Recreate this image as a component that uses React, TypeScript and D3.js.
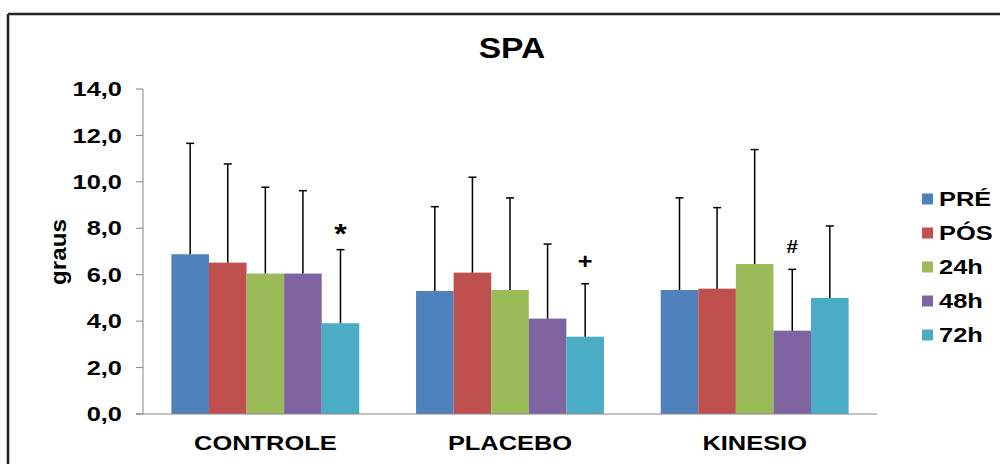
import React from "react";
import * as d3 from "d3";

const categories = ["CONTROLE", "PLACEBO", "KINESIO"];
const seriesNames = ["PRÉ", "PÓS", "24h", "48h", "72h"];
const seriesColors = ["#4F81BD", "#C0504D", "#9BBB59", "#8064A2", "#4BACC6"];
// means per category, in series order
const meanControle = [6.88, 6.52, 6.05, 6.05, 3.91];
const meanPlacebo = [5.3, 6.09, 5.34, 4.11, 3.33];
const meanKinesio = [5.34, 5.4, 6.46, 3.59, 5.0];
// upper error bar ends (mean + SD)
const errControle = [11.66, 10.77, 9.77, 9.62, 7.08];
const errPlacebo = [8.93, 10.2, 9.31, 7.32, 5.61];
const errKinesio = [9.31, 8.89, 11.39, 6.23, 8.1];
const yTicks = [0, 2, 4, 6, 8, 10, 12, 14];
const annotations = [
  { category: "CONTROLE", series: "72h", symbol: "*" },
  { category: "PLACEBO", series: "72h", symbol: "+" },
  { category: "KINESIO", series: "48h", symbol: "#" },
];

const means = [meanControle, meanPlacebo, meanKinesio];
const errs = [errControle, errPlacebo, errKinesio];

const FONT = "'Liberation Sans', Arial, sans-serif";
const SX = 1.27;

const symStyle: Record<string, { size: number; off: number }> = {
  "*": { size: 28, off: 15.5 },
  "+": { size: 22, off: 7.6 },
  "#": { size: 18, off: 6.3 },
};

export default function App() {
  const W = 1000;
  const H = 464;
  const left = 143;
  const right = 877;
  const top = 89;
  const bottom = 414;

  const x0 = d3
    .scaleBand<string>()
    .domain(categories)
    .range([left, right])
    .paddingInner(0.232)
    .paddingOuter(0.116);
  const x1 = d3
    .scaleBand<string>()
    .domain(seriesNames)
    .range([0, x0.bandwidth()])
    .padding(0);
  const y = d3.scaleLinear().domain([0, 14]).range([bottom, top]);
  const fmt = (v: number) => d3.format(".1f")(v).replace(".", ",");

  const capW = 8;

  return (
    <svg
      width={W}
      height={H}
      style={{ position: "absolute", left: 0, top: 0, display: "block", background: "#fff" }}
      fontFamily={FONT}
    >
      <rect x={0} y={0} width={W} height={H} fill="#fff" />
      {/* frame */}
      <line x1={8} y1={14} x2={W} y2={14} stroke="#222" strokeWidth={2.5} />
      <line x1={8} y1={14} x2={8} y2={H} stroke="#222" strokeWidth={2.5} />

      {/* title */}
      <text
        transform={`translate(512,58) scale(1.12,1)`}
        textAnchor="middle"
        fontSize={30}
        fontWeight="bold"
        fill="#000"
      >
        SPA
      </text>

      {/* y axis */}
      <line x1={left} y1={top} x2={left} y2={bottom} stroke="#868686" strokeWidth={1} />
      {yTicks.map((t) => (
        <g key={t}>
          <line x1={left - 7} y1={y(t)} x2={left} y2={y(t)} stroke="#868686" strokeWidth={1} />
          <text
            transform={`translate(122,${y(t) + 7.2}) scale(${SX},1)`}
            textAnchor="end"
            fontSize={20}
            fontWeight="bold"
            fill="#000"
          >
            {fmt(t)}
          </text>
        </g>
      ))}
      <text
        transform={`translate(66,252) rotate(-90) scale(1.1,1)`}
        textAnchor="middle"
        fontSize={22}
        fontWeight="bold"
        fill="#000"
      >
        graus
      </text>

      {/* bars */}
      {categories.map((c, ci) => (
        <g key={c} transform={`translate(${x0(c)},0)`}>
          {seriesNames.map((s, si) => (
            <rect
              key={s}
              x={x1(s)}
              y={y(means[ci][si])}
              width={x1.bandwidth()}
              height={bottom - y(means[ci][si])}
              fill={seriesColors[si]}
            />
          ))}
          {seriesNames.map((s, si) => {
            const cx = (x1(s) as number) + x1.bandwidth() / 2;
            return (
              <g key={s + "e"}>
                <line x1={cx} x2={cx} y1={y(means[ci][si])} y2={y(errs[ci][si])} stroke="#000" strokeWidth={1.5} />
                <line
                  x1={cx - capW / 2}
                  x2={cx + capW / 2}
                  y1={y(errs[ci][si])}
                  y2={y(errs[ci][si])}
                  stroke="#000"
                  strokeWidth={1.5}
                />
              </g>
            );
          })}
        </g>
      ))}

      {/* x axis */}
      <line x1={left - 7} y1={bottom} x2={right} y2={bottom} stroke="#868686" strokeWidth={1} />
      {categories.map((c) => (
        <text
          key={c}
          transform={`translate(${(x0(c) as number) + x0.bandwidth() / 2},449.5) scale(${SX},1)`}
          textAnchor="middle"
          fontSize={20}
          fontWeight="bold"
          fill="#000"
        >
          {c}
        </text>
      ))}

      {/* annotations */}
      {annotations.map((a) => {
        const ci = categories.indexOf(a.category);
        const si = seriesNames.indexOf(a.series);
        const cx = (x0(a.category) as number) + (x1(a.series) as number) + x1.bandwidth() / 2;
        const cy = y(errs[ci][si]) - 22.5;
        const st = symStyle[a.symbol];
        return (
          <text
            key={a.category}
            transform={`translate(${cx},${cy + st.off}) scale(1.15,1)`}
            textAnchor="middle"
            fontSize={st.size}
            fontWeight="bold"
            fill="#000"
          >
            {a.symbol}
          </text>
        );
      })}

      {/* legend */}
      {seriesNames.map((s, i) => {
        const cy = 199 + i * 34;
        return (
          <g key={s}>
            <rect x={922} y={cy - 5.5} width={11} height={11} fill={seriesColors[i]} />
            <text
              transform={`translate(939,${cy + 7.2}) scale(${SX},1)`}
              fontSize={20}
              fontWeight="bold"
              fill="#000"
            >
              {s}
            </text>
          </g>
        );
      })}
    </svg>
  );
}
